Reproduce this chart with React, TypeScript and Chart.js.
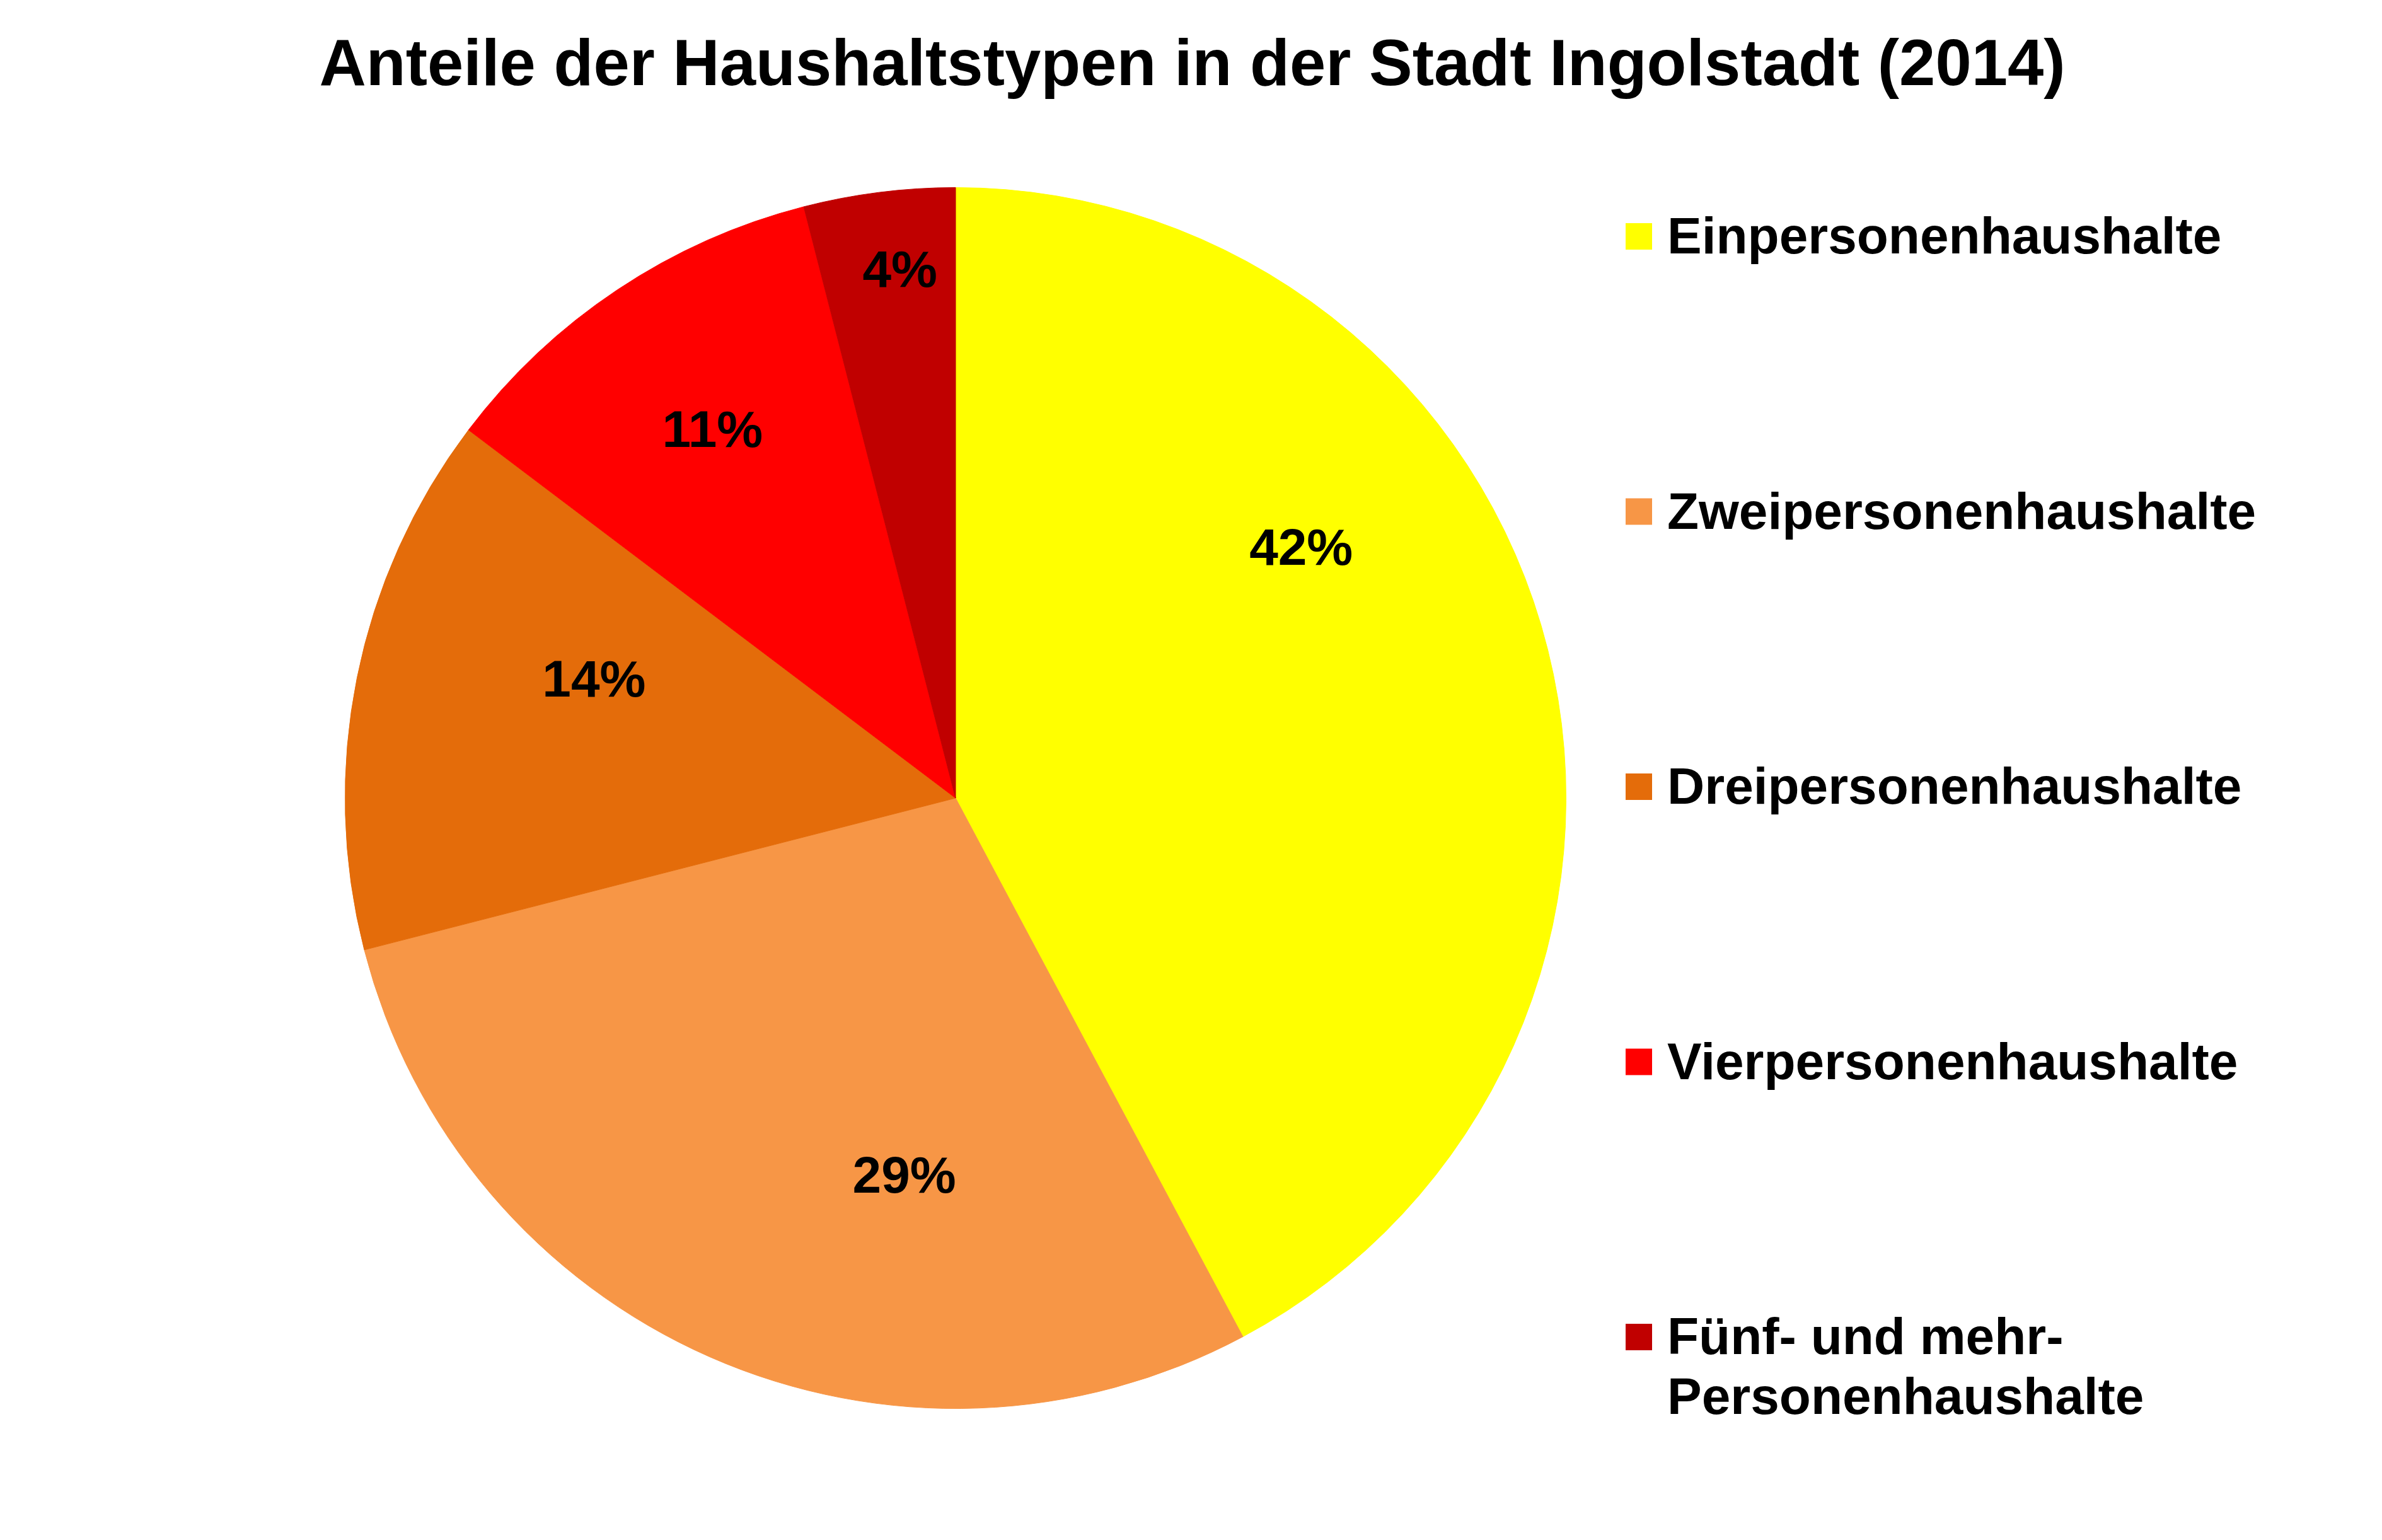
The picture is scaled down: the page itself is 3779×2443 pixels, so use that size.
import React, { useEffect, useRef } from 'react';
import { Chart, registerables } from 'chart.js';

Chart.register(...registerables);

const FONT = '"Liberation Sans", Arial, Helvetica, sans-serif';

const chartTitle = 'Anteile der Haushaltstypen in der Stadt Ingolstadt (2014)';

const categories: (string | string[])[] = [
  'Einpersonenhaushalte',
  'Zweipersonenhaushalte',
  'Dreipersonenhaushalte',
  'Vierpersonenhaushalte',
  ['Fünf- und mehr-', 'Personenhaushalte'],
];

// Anteil in Prozent (aus dem Bild geschätzt)
const shares = [42.2, 28.8, 14.3, 10.7, 4.0];

const sliceColors = ['#FFFF00', '#F79646', '#E46C0A', '#FF0000', '#C00000'];

// where the % label sits in its slice: turn away from the mid angle (deg) and depth (share of radius)
const labelTurn = [-22, -16, 7, 0.3, 1.2];
const labelDepth = [0.7, 0.622, 0.624, 0.724, 0.872];

const overlayPlugin = {
  id: 'overlay',
  afterDraw(chart: any) {
    const { ctx } = chart;
    const meta = chart.getDatasetMeta(0);
    const total = shares.reduce((a, b) => a + b, 0);

    ctx.save();
    ctx.fillStyle = '#000';
    ctx.textBaseline = 'alphabetic';

    // title
    ctx.textAlign = 'center';
    ctx.font = `bold 103px ${FONT}`;
    ctx.fillText(chartTitle, chart.width / 2 + 2, 135);

    // percentage labels
    ctx.font = `bold 82px ${FONT}`;
    meta.data.forEach((arc: any, i: number) => {
      const { x, y, startAngle, endAngle, outerRadius } = arc.getProps(
        ['x', 'y', 'startAngle', 'endAngle', 'outerRadius'],
        true
      );
      const a = (startAngle + endAngle) / 2 + (labelTurn[i] * Math.PI) / 180;
      const r = outerRadius * labelDepth[i];
      const pct = Math.round((shares[i] / total) * 100);
      ctx.fillText(`${pct}%`, x + r * Math.cos(a), y + r * Math.sin(a) + 29);
    });

    // legend
    ctx.textAlign = 'left';
    categories.forEach((cat, i) => {
      const cy = 375 + i * 436.5;
      ctx.fillStyle = sliceColors[i];
      ctx.fillRect(2579, cy - 21, 42, 42);
      ctx.fillStyle = '#000';
      const lines = Array.isArray(cat) ? cat : [cat];
      lines.forEach((line, j) => ctx.fillText(line, 2645, cy + 27 + j * 95));
    });

    ctx.restore();
  },
};

export default function App() {
  const canvasRef = useRef<HTMLCanvasElement | null>(null);

  useEffect(() => {
    if (!canvasRef.current) return;

    const chart = new Chart(canvasRef.current, {
      type: 'pie',
      data: {
        labels: categories,
        datasets: [
          {
            data: shares,
            backgroundColor: sliceColors,
            borderColor: sliceColors,
            borderWidth: 1,
          },
        ],
      },
      options: {
        animation: false,
        responsive: true,
        maintainAspectRatio: false,
        devicePixelRatio: 1,
        layout: {
          padding: { left: 547, top: 297, right: 1294, bottom: 208 },
        },
        plugins: {
          legend: { display: false },
          title: { display: false },
          tooltip: { enabled: false },
        },
      },
      plugins: [overlayPlugin],
    });

    return () => {
      chart.destroy();
    };
  }, []);

  return (
    <div style={{ position: 'fixed', left: 0, top: 0, width: 3779, height: 2443, background: '#fff' }}>
      <canvas ref={canvasRef}></canvas>
    </div>
  );
}
